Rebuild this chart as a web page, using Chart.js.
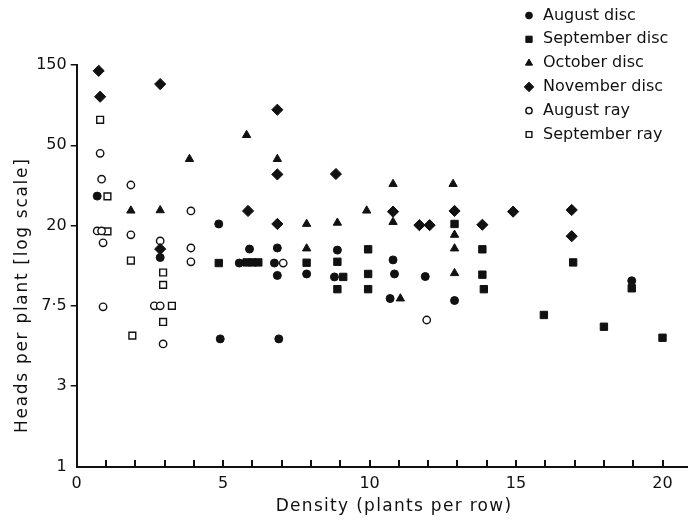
<!DOCTYPE html>
<html>
<head>
<meta charset="utf-8">
<title>Heads per plant against density</title>
<script src="https://cdn.jsdelivr.net/npm/chart.js@4.4.1/dist/chart.umd.min.js"></script>
<style>
  html, body { margin: 0; padding: 0; background: #fff; }
  #chart { display: block; }
</style>
</head>
<body>
<canvas id="chart" width="694" height="520"></canvas>
<script>
// values: density (plants per row) and heads per plant
const seriesNames = ["August disc", "September disc", "October disc", "November disc", "August ray", "September ray"];

const augustDiscDensity = [0.7, 4.85, 4.9, 2.85, 5.9, 5.55, 6.85, 6.75, 6.85, 6.9, 7.85, 8.9, 8.8, 10.8, 10.85, 10.7, 11.9, 12.9, 18.95];
const augustDiscHeads = [29, 20.5, 4.9, 13.5, 15, 12.6, 15.2, 12.6, 10.8, 4.9, 11, 14.8, 10.6, 13.1, 11, 8.1, 10.65, 7.9, 10.1];

const septemberDiscDensity = [4.85, 5.8, 6.0, 6.2, 7.85, 8.9, 9.1, 8.9, 9.95, 9.95, 9.95, 12.9, 13.85, 13.85, 13.9, 15.95, 16.95, 18, 18.95, 20];
const septemberDiscHeads = [12.6, 12.7, 12.7, 12.7, 12.65, 12.8, 10.6, 9.1, 14.95, 11, 9.1, 20.5, 14.95, 10.9, 9.1, 6.6, 12.7, 5.7, 9.2, 4.97];

const octoberDiscDensity = [1.85, 2.85, 3.85, 5.8, 6.85, 7.85, 7.85, 8.9, 9.9, 10.8, 10.8, 11.05, 12.85, 12.9, 12.9, 12.9];
const octoberDiscHeads = [24.2, 24.3, 46, 62, 46, 20.5, 15.1, 20.8, 24.2, 33.7, 21, 8.1, 33.7, 17.9, 15.1, 11.1];

const novemberDiscDensity = [0.75, 0.8, 2.85, 2.85, 5.85, 6.85, 6.85, 6.85, 8.85, 10.8, 11.7, 12.05, 12.9, 13.85, 14.9, 16.9, 16.9];
const novemberDiscHeads = [138, 100, 117, 15, 24.1, 85, 38, 20.5, 38.2, 23.9, 20.2, 20.2, 24.1, 20.3, 23.9, 24.4, 17.6];

const augustRayDensity = [0.8, 0.85, 1.85, 0.7, 0.85, 0.9, 1.85, 2.85, 3.9, 3.9, 3.9, 0.9, 2.65, 2.85, 2.95, 7.05, 11.95];
const augustRayHeads = [49.4, 35.8, 33.3, 18.8, 18.8, 16.2, 17.9, 16.6, 24.1, 15.2, 12.8, 7.3, 7.4, 7.4, 4.6, 12.6, 6.2];

const septemberRayDensity = [0.8, 1.05, 1.05, 1.85, 2.95, 2.95, 3.25, 2.95, 1.9];
const septemberRayHeads = [75, 28.9, 18.7, 13, 11.2, 9.6, 7.4, 6.05, 5.1];

const xTickLabels = [0, 5, 10, 15, 20];
// the axis is spaced in powers of e, labelled with rounded values
const yTickLabels = ["1", "3", "7·5", "20", "50", "150"];

const xTitle = "Density (plants per row)";
const yTitle = "Heads per plant [log scale]";

const INK = "#111";
const FONT = "'DejaVu Sans', sans-serif";

const markerStyles = [
  { pointStyle: "circle", radius: 4, fill: INK, border: 1 },
  { pointStyle: "rect", radius: 5.2, fill: INK, border: 1 },
  { pointStyle: "triangle", radius: 4.8, fill: INK, border: 1 },
  { pointStyle: "rectRot", radius: 5.6, fill: INK, border: 1 },
  { pointStyle: "circle", radius: 3.7, fill: "#fff", border: 1.4 },
  { pointStyle: "rect", radius: 4.8, fill: "#fff", border: 1.4 }
];

function buildSeries(index, densities, heads) {
  const style = markerStyles[index];
  return {
    label: seriesNames[index],
    data: densities.map((x, i) => ({ x, y: heads[i] })),
    pointStyle: style.pointStyle,
    pointRadius: style.radius,
    backgroundColor: style.fill,
    borderColor: INK,
    borderWidth: style.border,
    clip: false
  };
}

// legend sits in the top right corner, partly above the plot
const cornerLegend = {
  id: "cornerLegend",
  afterDraw(chart) {
    const ctx = chart.ctx;
    ctx.save();
    ctx.font = `16px ${FONT}`;
    ctx.textAlign = "left";
    ctx.textBaseline = "middle";
    chart.data.datasets.forEach((ds, i) => {
      const y = 15.5 + i * 23.8;
      ctx.fillStyle = ds.backgroundColor;
      ctx.strokeStyle = ds.borderColor;
      ctx.lineWidth = ds.borderWidth;
      Chart.helpers.drawPoint(ctx, {
        pointStyle: ds.pointStyle,
        radius: ds.pointRadius * 0.85,
        rotation: 0,
        borderWidth: ds.borderWidth
      }, 529, y);
      ctx.fillStyle = INK;
      ctx.fillText(ds.label, 543, y);
    });
    ctx.restore();
  }
};

// titles drawn by hand so they can get the wide letter spacing of the original,
// plus the x tick marks, which point up into the plot
const axisDecor = {
  id: "axisDecor",
  afterDraw(chart) {
    const { ctx, chartArea } = chart;
    const xScale = chart.scales.x;
    const last = xTickLabels[xTickLabels.length - 1];
    const base = Math.round(chartArea.bottom);

    ctx.save();
    ctx.fillStyle = INK;
    for (let value = 1; value <= last; value += 1) {
      const x = Math.round(xScale.getPixelForValue(value));
      ctx.fillRect(x - 1, base - 7, 2, 7);
    }

    ctx.font = `17px ${FONT}`;
    ctx.letterSpacing = "1.3px";
    ctx.textAlign = "center";
    ctx.textBaseline = "alphabetic";
    ctx.fillText(xTitle, (chartArea.left + chartArea.right) / 2 + 12, chartArea.bottom + 44.5);
    ctx.letterSpacing = "1.7px";
    ctx.translate(chartArea.left - 50, (chartArea.top + chartArea.bottom) / 2 + 29.5);
    ctx.rotate(-Math.PI / 2);
    ctx.fillText(yTitle, 0, 0);
    ctx.restore();
  }
};

Chart.defaults.font.family = FONT;
Chart.defaults.color = INK;

new Chart(document.querySelector("#chart"), {
  type: "scatter",
  data: {
    datasets: [
      buildSeries(0, augustDiscDensity, augustDiscHeads),
      buildSeries(1, septemberDiscDensity, septemberDiscHeads),
      buildSeries(2, octoberDiscDensity, octoberDiscHeads),
      buildSeries(3, novemberDiscDensity, novemberDiscHeads),
      buildSeries(4, augustRayDensity, augustRayHeads),
      buildSeries(5, septemberRayDensity, septemberRayHeads)
    ]
  },
  options: {
    responsive: false,
    animation: false,
    events: [],
    layout: { padding: { top: 65, left: 0, right: 0, bottom: 0 } },
    plugins: {
      legend: { display: false },
      tooltip: { enabled: false }
    },
    scales: {
      x: {
        type: "linear",
        min: 0,
        max: 20.85,
        border: { color: INK, width: 2 },
        grid: { drawOnChartArea: false, drawTicks: false },
        ticks: {
          stepSize: 1,
          includeBounds: false,
          autoSkip: false,
          maxRotation: 0,
          padding: 8,
          color: INK,
          font: { size: 16 },
          callback: (value) => (xTickLabels.includes(value) ? String(value) : "")
        },
        afterFit: (scale) => { scale.height = 53.5; }
      },
      y: {
        type: "logarithmic",
        min: 1,
        max: Math.exp(5),
        border: { color: INK, width: 2 },
        grid: {
          drawOnChartArea: false,
          tickLength: 6,
          lineWidth: 1.5,
          color: (ctx) => (ctx.index === 0 ? "rgba(0,0,0,0)" : INK)
        },
        ticks: {
          autoSkip: false,
          padding: 4,
          color: INK,
          font: { size: 16 },
          callback: (value, index) => yTickLabels[index]
        },
        afterBuildTicks: (scale) => {
          scale.ticks = yTickLabels.map((label, i) => ({ value: Math.exp(i) }));
        },
        afterFit: (scale) => { scale.width = 76.7; }
      }
    }
  },
  plugins: [cornerLegend, axisDecor]
});
</script>
</body>
</html>
